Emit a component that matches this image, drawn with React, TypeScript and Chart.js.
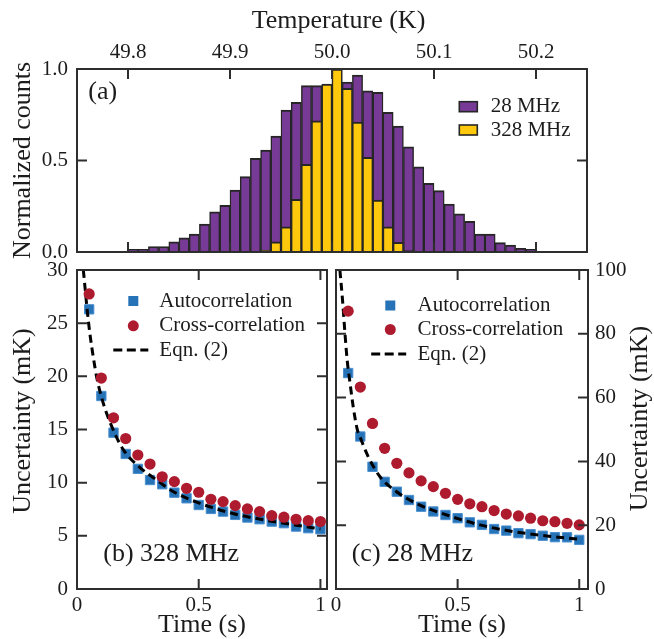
import React, { useEffect, useRef } from 'react';
import { Chart, registerables } from 'chart.js';

Chart.register(...registerables);

const W = 654;
const H = 639;
const FONT = "'Liberation Serif', 'Times New Roman', Times, serif";
const INK = '#1c1c1c';
const FRAME = '#2e2e2e';
const EDGE = '#262626';
const PURPLE = '#773b97';
const YELLOW = '#fec80c';
const BLUE = '#2673b8';
const RED = '#ae1b2f';

// ---------- (a) histogram ----------
const tempBinCenters = [
  49.805, 49.815, 49.825, 49.835, 49.845, 49.855, 49.865, 49.875, 49.885, 49.895,
  49.905, 49.915, 49.925, 49.935, 49.945, 49.955, 49.965, 49.975, 49.985, 49.995,
  50.005, 50.015, 50.025, 50.035, 50.045, 50.055, 50.065, 50.075, 50.085, 50.095,
  50.105, 50.115, 50.125, 50.135, 50.145, 50.155, 50.165, 50.175, 50.185, 50.195,
];
const counts28 = [
  0.015, 0.015, 0.03, 0.03, 0.055, 0.078, 0.098, 0.153, 0.219, 0.255,
  0.339, 0.412, 0.512, 0.557, 0.634, 0.776, 0.818, 0.909, 0.909, 0.91,
  1.0, 0.928, 0.967, 0.881, 0.872, 0.763, 0.688, 0.575, 0.466, 0.375,
  0.335, 0.262, 0.208, 0.168, 0.098, 0.098, 0.051, 0.038, 0.02, 0.015,
];
const counts328 = [
  null, null, null, null, null, null, null, null, null, null,
  null, null, null, 0.01, 0.056, 0.138, 0.288, 0.479, 0.717, 0.918,
  1.0, 0.894, 0.71, 0.517, 0.284, 0.138, 0.053, 0.008, null, null,
  null, null, null, null, null, null, null, null, null, null,
];
const tempTicks = [49.8, 49.9, 50.0, 50.1, 50.2];
const countTicks = [0, 0.5, 1.0];
const histLegend = ['28 MHz', '328 MHz'];

// ---------- (b), (c) uncertainty ----------
const times = [0.05, 0.1, 0.15, 0.2, 0.25, 0.3, 0.35, 0.4, 0.45, 0.5, 0.55, 0.6, 0.65, 0.7, 0.75, 0.8, 0.85, 0.9, 0.95, 1.0];
const auto328 = [26.3, 18.15, 14.7, 12.7, 11.3, 10.25, 9.85, 9.06, 8.53, 7.9, 7.53, 7.28, 6.97, 6.72, 6.56, 6.34, 6.19, 5.87, 5.72, 5.62];
const cross328 = [27.75, 19.84, 16.1, 14.15, 12.6, 11.75, 10.55, 10.1, 9.47, 9.1, 8.44, 8.22, 7.84, 7.53, 7.28, 6.9, 6.75, 6.56, 6.43, 6.34];
const eqnTime328 = [0.026, 0.034, 0.042, 0.053, 0.067, 0.081, 0.1, 0.122, 0.156, 0.19, 0.26, 0.33, 0.4, 0.5, 0.64, 0.78, 0.9, 1.0];
const eqn328 = [30, 28.1, 26.2, 24.0, 21.8, 19.9, 18.1, 16.5, 14.6, 13.1, 11.4, 10.2, 9.1, 8.1, 7.1, 6.45, 6.0, 5.65];
const auto28 = [67.7, 47.8, 38.3, 33.6, 30.5, 27.9, 25.8, 24.3, 23.2, 22.2, 20.9, 20.1, 18.8, 18.3, 17.5, 17.2, 16.7, 16.25, 16.2, 15.4];
const cross28 = [87.1, 63.3, 51.9, 44.1, 39.4, 36.4, 33.9, 32.1, 30.0, 28.1, 26.7, 25.8, 24.6, 23.5, 22.9, 22.2, 21.4, 21.1, 20.6, 20.1];
const eqnTime28 = [0.016, 0.027, 0.036, 0.046, 0.058, 0.071, 0.088, 0.096, 0.133, 0.181, 0.249, 0.345, 0.455, 0.592, 0.729, 0.866, 1.0];
const eqn28 = [100, 90.4, 81, 71.7, 64.4, 57, 49.8, 48.2, 41.4, 35.2, 30.5, 26.3, 23.2, 20.1, 18.0, 16.65, 15.6];
const timeTicks = [0, 0.5, 1];
const uncTicks328 = [0, 5, 10, 15, 20, 25, 30];
const uncTicks28 = [0, 20, 40, 60, 80, 100];
const seriesNames = ['Autocorrelation', 'Cross-correlation', 'Eqn. (2)'];

const TICK_FONT = { family: FONT, size: 21 };

const framePlugin = {
  id: 'frame',
  afterDatasetsDraw(chart: any, _args: any, opts: any) {
    const { ctx, chartArea: a } = chart;
    const xs = chart.scales.x;
    const ys = chart.scales.y;
    const TL = 10;
    ctx.save();
    ctx.setLineDash([]);
    ctx.strokeStyle = FRAME;
    ctx.lineWidth = 2;
    ctx.beginPath();
    xs.ticks.forEach((t: any) => {
      const p = xs.getPixelForValue(t.value);
      if (p <= a.left + 1 || p >= a.right - 1) return;
      ctx.moveTo(p, a.top);
      ctx.lineTo(p, a.top + TL);
      ctx.moveTo(p, a.bottom);
      ctx.lineTo(p, a.bottom - TL);
    });
    ys.ticks.forEach((t: any) => {
      const p = ys.getPixelForValue(t.value);
      if (p <= a.top + 1 || p >= a.bottom - 1) return;
      ctx.moveTo(a.left, p);
      ctx.lineTo(a.left + TL, p);
      ctx.moveTo(a.right, p);
      ctx.lineTo(a.right - TL, p);
    });
    ctx.stroke();
    ctx.strokeRect(a.left, a.top, a.right - a.left, a.bottom - a.top);

    ctx.fillStyle = INK;
    ctx.textBaseline = 'middle';
    (opts.texts || []).forEach((t: any) => {
      ctx.font = `${t.size}px ${FONT}`;
      ctx.textAlign = t.align || 'center';
      if (t.rotate) {
        ctx.save();
        ctx.translate(t.x, t.y);
        ctx.rotate(-Math.PI / 2);
        ctx.fillText(t.text, 0, 0);
        ctx.restore();
      } else {
        ctx.fillText(t.text, t.x, t.y);
      }
    });

    (opts.legend || []).forEach((it: any) => {
      ctx.save();
      if (it.kind === 'box') {
        ctx.fillStyle = it.color;
        ctx.fillRect(it.mx - 9, it.my - 5, 18, 10);
        ctx.strokeStyle = EDGE;
        ctx.lineWidth = 1.6;
        ctx.strokeRect(it.mx - 9, it.my - 5, 18, 10);
      } else if (it.kind === 'square') {
        ctx.fillStyle = it.color;
        ctx.fillRect(it.mx - 5, it.my - 5, 10, 10);
      } else if (it.kind === 'circle') {
        ctx.fillStyle = it.color;
        ctx.beginPath();
        ctx.arc(it.mx, it.my, 5.5, 0, Math.PI * 2);
        ctx.fill();
      } else if (it.kind === 'dash') {
        ctx.strokeStyle = it.color;
        ctx.lineWidth = 3;
        ctx.setLineDash([9, 4.5]);
        ctx.beginPath();
        ctx.moveTo(it.mx - 17.5, it.my);
        ctx.lineTo(it.mx + 17.5, it.my);
        ctx.stroke();
      }
      ctx.restore();
      ctx.fillStyle = INK;
      ctx.font = `21px ${FONT}`;
      ctx.textAlign = 'left';
      ctx.textBaseline = 'middle';
      ctx.fillText(it.label, it.tx, it.my);
    });
    ctx.restore();
  },
};

function setTicks(values: number[]) {
  return (s: any) => {
    s.ticks = values.map((v) => ({ value: v }));
  };
}

function makeHist(canvas: HTMLCanvasElement) {
  const barStyle = {
    borderColor: EDGE,
    borderWidth: { top: 2, left: 1.5, right: 1.5, bottom: 0 },
    borderSkipped: 'start',
    grouped: false,
    barPercentage: 1,
    categoryPercentage: 1,
  };
  return new Chart(canvas, {
    type: 'bar',
    data: {
      datasets: [
        { ...barStyle, label: histLegend[1], backgroundColor: YELLOW, data: tempBinCenters.map((x, i) => ({ x, y: counts328[i] })) },
        { ...barStyle, label: histLegend[0], backgroundColor: PURPLE, data: tempBinCenters.map((x, i) => ({ x, y: counts28[i] })) },
      ],
    } as any,
    options: {
      responsive: false,
      animation: false,
      events: [],
      layout: { padding: { left: 0, top: 0, right: W - 587, bottom: H - 252 } },
      scales: {
        x: {
          type: 'linear',
          position: 'top',
          min: 49.75,
          max: 50.25,
          offset: false,
          afterBuildTicks: setTicks(tempTicks),
          afterFit: (s: any) => { s.height = 69; },
          grid: { display: false, drawTicks: false },
          border: { display: false },
          ticks: { font: TICK_FONT, color: INK, padding: 4, maxRotation: 0, autoSkip: false, callback: (v: any) => Number(v).toFixed(1) },
        },
        y: {
          type: 'linear',
          position: 'left',
          min: 0,
          max: 1,
          afterBuildTicks: setTicks(countTicks),
          afterFit: (s: any) => { s.width = 77; },
          grid: { display: false, drawTicks: false },
          border: { display: false },
          ticks: { font: TICK_FONT, color: INK, padding: 9, autoSkip: false, callback: (v: any) => Number(v).toFixed(1) },
          title: { display: true, text: 'Normalized counts', color: INK, font: { family: FONT, size: 26 }, padding: { top: 7.4, bottom: 0 } },
        },
      },
      plugins: {
        legend: { display: false },
        tooltip: { enabled: false },
        frame: {
          texts: [
            { text: 'Temperature (K)', x: 338.5, y: 21, size: 26 },
            { text: '(a)', x: 88.3, y: 92, size: 26, align: 'left' },
          ],
          legend: [
            { kind: 'box', color: PURPLE, label: histLegend[0], mx: 468.3, my: 106.7, tx: 490.7 },
            { kind: 'box', color: YELLOW, label: histLegend[1], mx: 468.3, my: 130, tx: 490.7 },
          ],
        },
      } as any,
    } as any,
    plugins: [framePlugin],
  });
}

function makeUnc(canvas: HTMLCanvasElement, panel: 'b' | 'c') {
  const isB = panel === 'b';
  const auto = isB ? auto328 : auto28;
  const cross = isB ? cross328 : cross28;
  const et = isB ? eqnTime328 : eqnTime28;
  const ev = isB ? eqn328 : eqn28;
  const pad = isB ? { left: 0, top: 270, right: W - 327, bottom: 0 } : { left: 336, top: 270, right: 0, bottom: 0 };
  const rows = isB ? [301, 325.8, 350] : [305.5, 329.5, 354];
  const mx = isB ? 133.3 : 390.3;
  const dx = isB ? 130.8 : 388.7;
  const tx = isB ? 159.3 : 417.5;
  const texts = isB
    ? [
        { text: 'Uncertainty (mK)', x: 23, y: 421, size: 26, rotate: true },
        { text: '(b) 328 MHz', x: 103.3, y: 554, size: 26, align: 'left' },
      ]
    : [
        { text: 'Uncertainty (mK)', x: 640, y: 418.5, size: 26, rotate: true },
        { text: '(c) 28 MHz', x: 351.7, y: 554, size: 26, align: 'left' },
      ];
  return new Chart(canvas, {
    type: 'scatter',
    data: {
      datasets: [
        { label: seriesNames[1], data: times.map((x, i) => ({ x, y: cross[i] })), pointStyle: 'circle', pointRadius: 5.6, pointBorderWidth: 0, backgroundColor: RED, borderColor: RED, showLine: false },
        { label: seriesNames[2], data: et.map((x, i) => ({ x, y: ev[i] })), showLine: true, pointRadius: 0, borderColor: '#000', borderWidth: 3, borderDash: [8, 5], cubicInterpolationMode: 'monotone', fill: false },
        { label: seriesNames[0], data: times.map((x, i) => ({ x, y: auto[i] })), pointStyle: 'rect', pointRadius: 6.6, pointBorderWidth: 1, backgroundColor: BLUE, borderColor: '#4a8fd0', showLine: false },
      ],
    } as any,
    options: {
      responsive: false,
      animation: false,
      events: [],
      layout: { padding: pad },
      scales: {
        x: {
          type: 'linear',
          position: 'bottom',
          min: 0,
          max: isB ? 1.027 : 1.036,
          afterBuildTicks: setTicks(timeTicks),
          afterFit: (s: any) => { s.height = H - 589; },
          grid: { display: false, drawTicks: false },
          border: { display: false },
          ticks: { font: TICK_FONT, color: INK, padding: 4, maxRotation: 0, autoSkip: false, callback: (v: any) => String(v) },
          title: { display: true, text: 'Time (s)', color: INK, font: { family: FONT, size: 26, lineHeight: 1 }, padding: { top: 0, bottom: 1 } },
        },
        y: {
          type: 'linear',
          position: isB ? 'left' : 'right',
          min: 0,
          max: isB ? 30 : 100,
          afterBuildTicks: setTicks(isB ? uncTicks328 : uncTicks28),
          afterFit: (s: any) => { s.width = isB ? 77 : W - 588; },
          grid: { display: false, drawTicks: false },
          border: { display: false },
          ticks: { font: TICK_FONT, color: INK, padding: isB ? 9 : 7, autoSkip: false, callback: (v: any) => String(v) },
        },
      },
      plugins: {
        legend: { display: false },
        tooltip: { enabled: false },
        frame: {
          texts,
          legend: [
            { kind: 'square', color: BLUE, label: seriesNames[0], mx, my: rows[0], tx },
            { kind: 'circle', color: RED, label: seriesNames[1], mx, my: rows[1], tx },
            { kind: 'dash', color: '#000', label: seriesNames[2], mx: dx, my: rows[2], tx },
          ],
        },
      } as any,
    } as any,
    plugins: [framePlugin],
  });
}

export default function App() {
  const r1 = useRef<HTMLCanvasElement>(null);
  const r2 = useRef<HTMLCanvasElement>(null);
  const r3 = useRef<HTMLCanvasElement>(null);
  useEffect(() => {
    const charts = [makeHist(r1.current!), makeUnc(r2.current!, 'b'), makeUnc(r3.current!, 'c')];
    return () => charts.forEach((c) => c.destroy());
  }, []);
  const cs: React.CSSProperties = { position: 'absolute', left: 0, top: 0, width: W, height: H };
  return (
    <div style={{ position: 'absolute', left: 0, top: 0, width: W, height: H, background: '#fff' }}>
      <canvas ref={r1} width={W} height={H} style={cs} />
      <canvas ref={r2} width={W} height={H} style={cs} />
      <canvas ref={r3} width={W} height={H} style={cs} />
    </div>
  );
}
